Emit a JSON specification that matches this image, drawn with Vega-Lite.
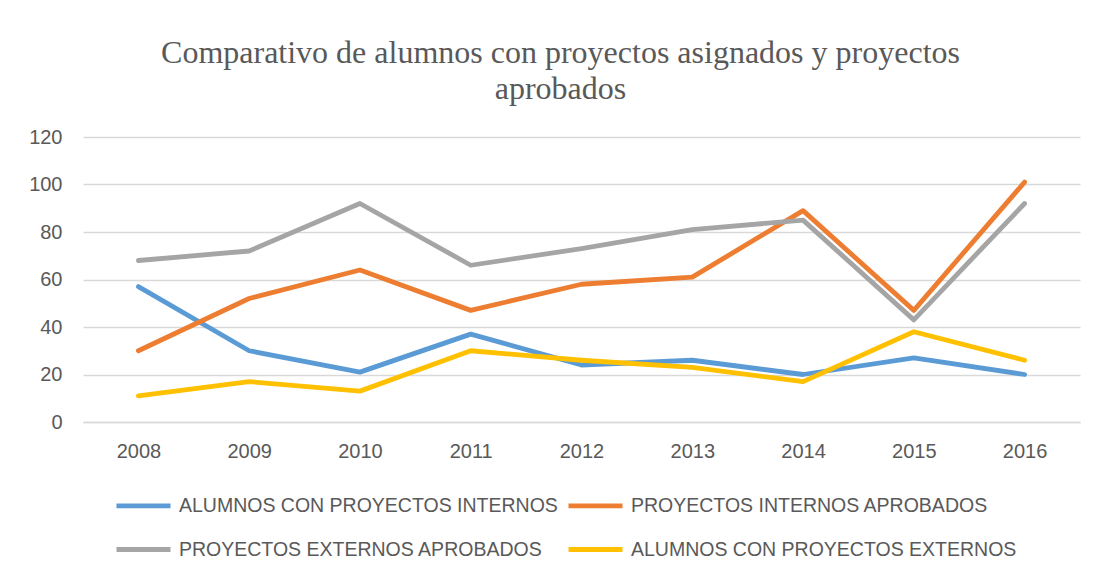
{
  "$schema": "https://vega.github.io/schema/vega-lite/v6.json",
  "width": 997,
  "height": 285,
  "autosize": {"type": "none"},
  "padding": {"left": 83, "top": 137, "right": 17, "bottom": 155},
  "background": "white",
  "title": {
    "text": ["Comparativo de alumnos con proyectos asignados y proyectos", "aprobados"],
    "font": "Liberation Serif",
    "fontSize": 32,
    "fontWeight": "normal",
    "color": "#595959",
    "anchor": "middle",
    "dx": -21,
    "offset": 21,
    "lineHeight": 36
  },
  "data": {
    "values": [
      {"year": "2008", "serie": "ALUMNOS CON PROYECTOS INTERNOS", "value": 57},
      {"year": "2009", "serie": "ALUMNOS CON PROYECTOS INTERNOS", "value": 30},
      {"year": "2010", "serie": "ALUMNOS CON PROYECTOS INTERNOS", "value": 21},
      {"year": "2011", "serie": "ALUMNOS CON PROYECTOS INTERNOS", "value": 37},
      {"year": "2012", "serie": "ALUMNOS CON PROYECTOS INTERNOS", "value": 24},
      {"year": "2013", "serie": "ALUMNOS CON PROYECTOS INTERNOS", "value": 26},
      {"year": "2014", "serie": "ALUMNOS CON PROYECTOS INTERNOS", "value": 20},
      {"year": "2015", "serie": "ALUMNOS CON PROYECTOS INTERNOS", "value": 27},
      {"year": "2016", "serie": "ALUMNOS CON PROYECTOS INTERNOS", "value": 20},
      {"year": "2008", "serie": "PROYECTOS INTERNOS APROBADOS", "value": 30},
      {"year": "2009", "serie": "PROYECTOS INTERNOS APROBADOS", "value": 52},
      {"year": "2010", "serie": "PROYECTOS INTERNOS APROBADOS", "value": 64},
      {"year": "2011", "serie": "PROYECTOS INTERNOS APROBADOS", "value": 47},
      {"year": "2012", "serie": "PROYECTOS INTERNOS APROBADOS", "value": 58},
      {"year": "2013", "serie": "PROYECTOS INTERNOS APROBADOS", "value": 61},
      {"year": "2014", "serie": "PROYECTOS INTERNOS APROBADOS", "value": 89},
      {"year": "2015", "serie": "PROYECTOS INTERNOS APROBADOS", "value": 47},
      {"year": "2016", "serie": "PROYECTOS INTERNOS APROBADOS", "value": 101},
      {"year": "2008", "serie": "PROYECTOS EXTERNOS APROBADOS", "value": 68},
      {"year": "2009", "serie": "PROYECTOS EXTERNOS APROBADOS", "value": 72},
      {"year": "2010", "serie": "PROYECTOS EXTERNOS APROBADOS", "value": 92},
      {"year": "2011", "serie": "PROYECTOS EXTERNOS APROBADOS", "value": 66},
      {"year": "2012", "serie": "PROYECTOS EXTERNOS APROBADOS", "value": 73},
      {"year": "2013", "serie": "PROYECTOS EXTERNOS APROBADOS", "value": 81},
      {"year": "2014", "serie": "PROYECTOS EXTERNOS APROBADOS", "value": 85},
      {"year": "2015", "serie": "PROYECTOS EXTERNOS APROBADOS", "value": 43},
      {"year": "2016", "serie": "PROYECTOS EXTERNOS APROBADOS", "value": 92},
      {"year": "2008", "serie": "ALUMNOS CON PROYECTOS EXTERNOS", "value": 11},
      {"year": "2009", "serie": "ALUMNOS CON PROYECTOS EXTERNOS", "value": 17},
      {"year": "2010", "serie": "ALUMNOS CON PROYECTOS EXTERNOS", "value": 13},
      {"year": "2011", "serie": "ALUMNOS CON PROYECTOS EXTERNOS", "value": 30},
      {"year": "2012", "serie": "ALUMNOS CON PROYECTOS EXTERNOS", "value": 26},
      {"year": "2013", "serie": "ALUMNOS CON PROYECTOS EXTERNOS", "value": 23},
      {"year": "2014", "serie": "ALUMNOS CON PROYECTOS EXTERNOS", "value": 17},
      {"year": "2015", "serie": "ALUMNOS CON PROYECTOS EXTERNOS", "value": 38},
      {"year": "2016", "serie": "ALUMNOS CON PROYECTOS EXTERNOS", "value": 26}
    ]
  },
  "mark": {"type": "line", "strokeWidth": 4.8, "strokeCap": "round", "strokeJoin": "round"},
  "encoding": {
    "x": {
      "field": "year",
      "type": "ordinal",
      "scale": {"type": "point", "padding": 0.5},
      "axis": {
        "title": null,
        "labelAngle": 0,
        "labelFont": "Liberation Sans",
        "labelFontSize": 20,
        "labelColor": "#595959",
        "labelPadding": 19,
        "ticks": false,
        "domainColor": "#d9d9d9",
        "domainWidth": 1.3,
        "grid": false
      }
    },
    "y": {
      "field": "value",
      "type": "quantitative",
      "scale": {"domain": [0, 120]},
      "axis": {
        "title": null,
        "values": [0, 20, 40, 60, 80, 100, 120],
        "labelFont": "Liberation Sans",
        "labelFontSize": 20,
        "labelColor": "#595959",
        "labelPadding": 21,
        "ticks": false,
        "domain": false,
        "gridColor": "#d9d9d9",
        "gridWidth": 1.3
      }
    },
    "color": {
      "field": "serie",
      "type": "nominal",
      "scale": {
        "domain": ["ALUMNOS CON PROYECTOS INTERNOS", "PROYECTOS INTERNOS APROBADOS", "PROYECTOS EXTERNOS APROBADOS", "ALUMNOS CON PROYECTOS EXTERNOS"],
        "range": ["#5B9BD5", "#ED7D31", "#A5A5A5", "#FFC000"]
      },
      "legend": {
        "title": null,
        "orient": "none",
        "direction": "horizontal",
        "legendX": 31,
        "legendY": 339,
        "columns": 2,
        "columnPadding": 0,
        "rowPadding": 4,
        "symbolType": "stroke",
        "symbolSize": 2916,
        "symbolStrokeWidth": 4.8,
        "labelFont": "Liberation Sans",
        "labelFontSize": 19.5,
        "labelColor": "#595959",
        "labelOffset": 6,
        "labelLimit": 500
      }
    }
  },
  "config": {"view": {"stroke": null}}
}
